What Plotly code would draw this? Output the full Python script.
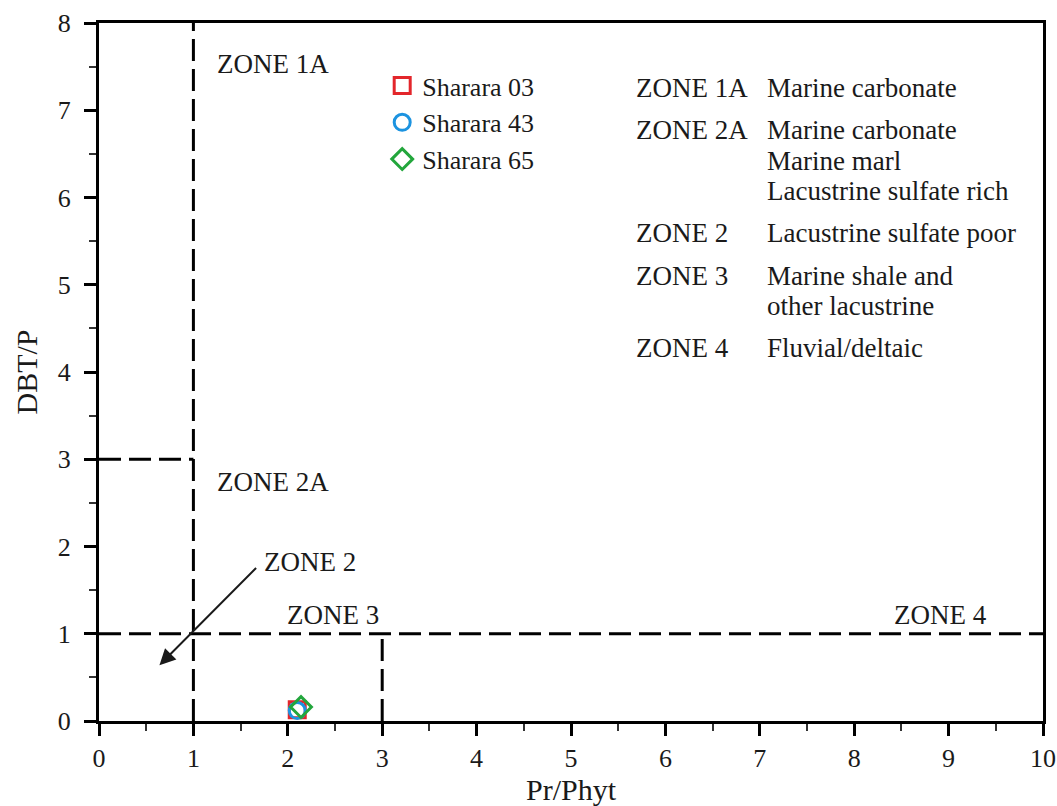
import plotly.graph_objects as go

# Sample measurements: Pr/Phyt vs DBT/P
samples = ["Sharara 03", "Sharara 43", "Sharara 65"]
pr_phyt = [2.10, 2.10, 2.14]
dbt_p = [0.13, 0.12, 0.16]
symbols = ["square-open", "circle-open", "diamond-open"]
colors = ["#E3262B", "#1C93E0", "#23A63C"]

# Zone boundaries (x0, y0, x1, y1)
boundaries = [
    (1, 0, 1, 8),
    (0, 3, 1, 3),
    (0, 1, 10, 1),
    (3, 0, 3, 1),
]

# Zone labels inside the plot (x, y, text)
zone_labels = [
    (1.23, 7.53, "ZONE 1A"),
    (1.23, 2.74, "ZONE 2A"),
    (1.73, 1.82, "ZONE 2"),
    (1.97, 1.21, "ZONE 3"),
    (8.40, 1.21, "ZONE 4"),
]

# Zone key (zone, description lines)
zone_key = [
    ("ZONE 1A", ["Marine carbonate"]),
    ("ZONE 2A", ["Marine carbonate", "Marine marl", "Lacustrine sulfate rich"]),
    ("ZONE 2", ["Lacustrine sulfate poor"]),
    ("ZONE 3", ["Marine shale and", "other lacustrine"]),
    ("ZONE 4", ["Fluvial/deltaic"]),
]

FONT = "Liberation Serif"
TXT = "#1a1a1a"

fig = go.Figure()

for name, x, y, sym, col in zip(samples, pr_phyt, dbt_p, symbols, colors):
    fig.add_trace(go.Scatter(
        x=[x], y=[y], mode="markers", name=name,
        marker=dict(symbol=sym, size=16, color=col, line=dict(width=3, color=col)),
    ))

for x0, y0, x1, y1 in boundaries:
    fig.add_shape(type="line", x0=x0, y0=y0, x1=x1, y1=y1, xref="x", yref="y",
                  line=dict(color="black", width=3, dash="22px,8px"), layer="below")

for x, y, t in zone_labels:
    fig.add_annotation(x=x, y=y, text=t, showarrow=False, xanchor="left", yanchor="middle",
                       font=dict(family=FONT, size=27, color=TXT))

# Arrow pointing into ZONE 2
fig.add_annotation(x=0.64, y=0.64, ax=1.68, ay=1.77, xref="x", yref="y", axref="x", ayref="y",
                   text="", showarrow=True, arrowhead=2, arrowsize=1.6, arrowwidth=2,
                   arrowcolor=TXT)

# Zone key text block, laid out in plot-area (paper) fractions
key_x0, key_x1 = 0.567, 0.706
line_y = 0.907
line_gap = 0.043
block_gap = 0.061
for zone, desc in zone_key:
    fig.add_annotation(x=key_x0, y=line_y, xref="paper", yref="paper",
                       text=zone, showarrow=False, xanchor="left", yanchor="middle",
                       font=dict(family=FONT, size=27, color=TXT))
    for i, d in enumerate(desc):
        fig.add_annotation(x=key_x1, y=line_y - i * line_gap,
                           xref="paper", yref="paper", text=d, showarrow=False,
                           xanchor="left", yanchor="middle",
                           font=dict(family=FONT, size=27, color=TXT))
    line_y -= (len(desc) - 1) * line_gap + block_gap

axis_common = dict(
    showline=True, linecolor="black", linewidth=3, mirror=True,
    showgrid=False, zeroline=False, automargin=False,
    ticks="outside", ticklen=12, tickwidth=3, tickcolor="black",
    tickfont=dict(family=FONT, size=26, color=TXT),
    minor=dict(ticks="outside", ticklen=7, tickwidth=1.5, tickcolor="#333", dtick=0.5),
)

fig.update_xaxes(range=[0, 10], dtick=1, title=dict(text="Pr/Phyt", standoff=2,
                 font=dict(family=FONT, size=30, color=TXT)), **axis_common)
fig.update_yaxes(range=[0, 8], dtick=1, ticklabelstandoff=8,
                 title=dict(text="DBT/P", standoff=12,
                 font=dict(family=FONT, size=30, color=TXT)), **axis_common)

fig.update_layout(
    width=1057, height=806,
    margin=dict(l=99, r=14, t=23, b=85),
    paper_bgcolor="white", plot_bgcolor="white",
    showlegend=True,
    legend=dict(x=0.30, y=0.944, xanchor="left", yanchor="top",
                font=dict(family=FONT, size=26, color=TXT),
                bgcolor="rgba(0,0,0,0)", itemsizing="trace"),
)

fig.write_html("out.html")
